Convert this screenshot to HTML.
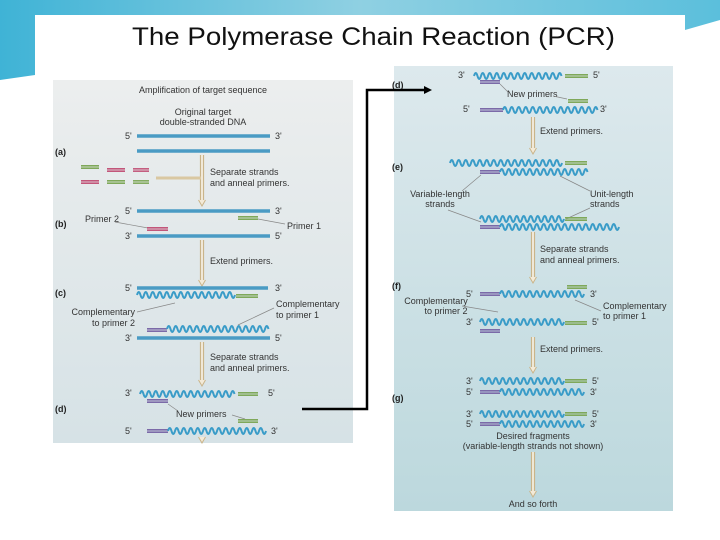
<!DOCTYPE html>
<html><head><meta charset="utf-8">
<style>
html,body{margin:0;padding:0;width:720px;height:540px;overflow:hidden;background:#fff}
svg{display:block}
text{font-family:"Liberation Sans",sans-serif}
.l{font-size:9px;fill:#333}
.b{font-size:9px;fill:#222;font-weight:bold}
</style></head>
<body>
<svg id="s" width="720" height="540" viewBox="0 0 720 540" xmlns="http://www.w3.org/2000/svg">
<defs>
<linearGradient id="bg" x1="0" y1="0" x2="1" y2="0">
<stop offset="0" stop-color="#3fb3d6"/><stop offset="0.5" stop-color="#8fd0e2"/><stop offset="1" stop-color="#5bbfdc"/></linearGradient>
<linearGradient id="lp" x1="0" y1="0" x2="0" y2="1">
<stop offset="0" stop-color="#eceeee"/><stop offset="1" stop-color="#d6e2e6"/></linearGradient>
<linearGradient id="rp" x1="0" y1="0" x2="0" y2="1">
<stop offset="0" stop-color="#dde9ed"/><stop offset="1" stop-color="#bcd8dd"/></linearGradient>
</defs>
<rect width="720" height="540" fill="#fff"/>
<path d="M0,0 H720 V20 L685,30 V15 H35 V75 L0,80 Z" fill="url(#bg)"/>
<rect x="35" y="15" width="650" height="510" fill="#fff"/>
<text x="132" y="45" font-size="25" fill="#111" textLength="483" lengthAdjust="spacingAndGlyphs">The Polymerase Chain Reaction (PCR)</text>
<rect x="53" y="80" width="300" height="363" fill="url(#lp)"/>
<rect x="394" y="66" width="279" height="445" fill="url(#rp)"/>
<g id="g"></g>
<path d="M302,409 H367 V90 H426" fill="none" stroke="#000" stroke-width="2.5"/>
<path d="M432,90 L424,86 L424,94 Z" fill="#000"/>
</svg>
<script>
var g=document.getElementById('g'),NS='http://www.w3.org/2000/svg';
function el(t,a,txt){var e=document.createElementNS(NS,t);for(var k in a)e.setAttribute(k,a[k]);if(txt)e.textContent=txt;g.appendChild(e);return e;}
function line(x1,x2,y,c){el('line',{x1:x1,x2:x2,y1:y,y2:y,stroke:c,'stroke-width':3.5});}
function strand(x1,x2,y){line(x1,x2,y,'#4a9bc4');}
function pr(x1,x2,y,c){var col={g:'#7fa85a',p:'#c2567a',v:'#7b6aa8'}[c];el('line',{x1:x1,x2:x2,y1:y-1.3,y2:y-1.3,stroke:col,'stroke-width':1.3});el('line',{x1:x1,x2:x2,y1:y+1.3,y2:y+1.3,stroke:col,'stroke-width':1.3});el('line',{x1:x1,x2:x2,y1:y,y2:y,stroke:col,'stroke-width':1,opacity:0.5});}
function wave(x1,x2,y){var n=Math.max(1,Math.round((x2-x1)/3.5));var d='M'+x1+','+y+' q1.75,-6 3.5,0';for(var i=1;i<n;i++)d+=' t3.5,0';el('path',{d:d,fill:'none',stroke:'#3a9cc8','stroke-width':2});}
function t(x,y,s,cls,anchor){el('text',{x:x,y:y,'class':cls||'l','text-anchor':anchor||'start'},s);}
function arrow(x,y1,y2){el('line',{x1:x-1.5,x2:x-1.5,y1:y1,y2:y2-5,stroke:'#c9b48a','stroke-width':1.2});el('line',{x1:x+1.5,x2:x+1.5,y1:y1,y2:y2-5,stroke:'#c9b48a','stroke-width':1.2});el('line',{x1:x,x2:x,y1:y1,y2:y2-5,stroke:'#f3ead8','stroke-width':1.8});el('path',{d:'M'+(x-3.5)+','+(y2-6)+' L'+x+','+y2+' L'+(x+3.5)+','+(y2-6),fill:'#f3ead8',stroke:'#c9b48a','stroke-width':1});}
function ln(x1,y1,x2,y2){el('line',{x1:x1,y1:y1,x2:x2,y2:y2,stroke:'#888','stroke-width':0.7});}
// LEFT
t(203,93,'Amplification of target sequence','l','middle');
t(203,115,'Original target','l','middle');t(203,125,'double-stranded DNA','l','middle');
t(125,139,"5'");t(275,139,"3'");strand(137,270,136);strand(137,270,151);
t(55,155,'(a)','b');
pr(81,99,167,'g');pr(107,125,170,'p');pr(133,149,170,'p');
pr(81,99,182,'p');pr(107,125,182,'g');pr(133,149,182,'g');
arrow(202,155,206);
el('line',{x1:156,x2:201,y1:178,y2:178,stroke:'#d9c8a2','stroke-width':3});
t(210,175,'Separate strands');t(210,186,'and anneal primers.');
t(125,214,"5'");t(275,214,"3'");strand(137,270,211);
pr(238,258,218,'g');ln(258,219,285,224);t(287,229,'Primer 1');
t(85,222,'Primer 2');ln(115,222,148,228);pr(147,168,229,'p');
t(55,227,'(b)','b');t(125,239,"3'");t(275,239,"5'");strand(137,270,236);
arrow(202,240,286);t(210,264,'Extend primers.');
t(125,291,"5'");t(275,291,"3'");strand(137,268,288);wave(137,235,295);pr(236,258,296,'g');
t(55,296,'(c)','b');
t(135,315,'Complementary','l','end');t(135,326,'to primer 2','l','end');ln(137,312,175,303);
t(276,307,'Complementary');t(276,318,'to primer 1');ln(274,308,238,325);
pr(147,167,330,'v');wave(167,267,329);
t(125,341,"3'");t(275,341,"5'");strand(137,270,338);
arrow(202,342,386);t(210,360,'Separate strands');t(210,371,'and anneal primers.');
t(125,396,"3'");wave(140,236,394);pr(238,258,394,'g');t(268,396,"5'");
pr(147,168,401,'v');t(55,412,'(d)','b');ln(168,404,178,411);t(176,417,'New primers');ln(232,415,245,419);
pr(238,258,421,'g');t(125,434,"5'");pr(147,168,431,'v');wave(168,266,431);t(271,434,"3'");
arrow(202,437,443);
// RIGHT
t(458,78,"3'");wave(474,563,76);pr(565,588,76,'g');t(593,78,"5'");
pr(480,500,82,'v');t(392,88,'(d)','b');ln(500,84,508,92);t(507,97,'New primers');ln(553,96,567,99);
pr(568,588,101,'g');t(463,112,"5'");pr(480,503,110,'v');wave(503,596,110);t(600,112,"3'");
arrow(533,117,154);t(540,134,'Extend primers.');
t(392,170,'(e)','b');wave(450,563,163);pr(565,587,163,'g');pr(480,500,172,'v');wave(500,588,172);
t(440,197,'Variable-length','l','middle');t(440,207,'strands','l','middle');
ln(481,175,462,191);ln(448,210,481,222);
t(590,197,'Unit-length');t(590,207,'strands');ln(560,176,590,191);ln(590,208,566,219);
wave(480,563,219);pr(565,587,219,'g');pr(480,500,227,'v');wave(500,618,227);
arrow(533,232,283);t(540,252,'Separate strands');t(540,263,'and anneal primers.');
t(392,289,'(f)','b');pr(567,587,287,'g');
t(466,297,"5'");pr(480,500,294,'v');wave(500,583,294);t(590,297,"3'");
t(436,304,'Complementary','l','middle');t(446,314,'to primer 2','l','middle');ln(462,306,498,312);
t(603,309,'Complementary');t(603,319,'to primer 1');ln(601,311,575,300);
t(466,325,"3'");wave(480,563,322);pr(565,587,323,'g');t(592,325,"5'");pr(480,500,331,'v');
arrow(533,337,373);t(540,352,'Extend primers.');
t(392,401,'(g)','b');
[[381,392],[414,424]].forEach(function(r){t(466,r[0]+3,"3'");wave(480,563,r[0]);pr(565,587,r[0],'g');t(592,r[0]+3,"5'");
t(466,r[1]+3,"5'");pr(480,500,r[1],'v');wave(500,583,r[1]);t(590,r[1]+3,"3'");});
t(533,439,'Desired fragments','l','middle');t(533,449,'(variable-length strands not shown)','l','middle');
arrow(533,452,497);t(533,507,'And so forth','l','middle');
</script>
</body></html>
